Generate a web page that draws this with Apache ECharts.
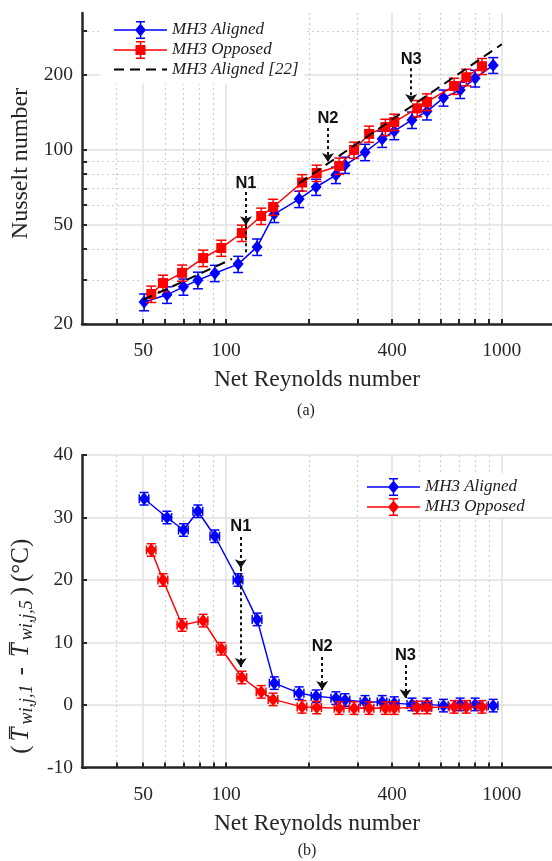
<!DOCTYPE html>
<html><head><meta charset="utf-8">
<script src="https://cdn.jsdelivr.net/npm/echarts@6/dist/echarts.min.js"></script>
<style>html,body{margin:0;padding:0;background:#fff}#c{width:552px;height:861px}</style>
</head><body><div id="c"></div>
<script>
// ---------- data ----------
const reAligned = [50.4, 61, 70, 79, 91, 110.5, 129.5, 149.5, 184, 212, 250, 270, 319, 368, 407, 472, 535, 614, 706, 800, 930];
const reOpposed = [53.5, 59, 69.2, 82.5, 96, 114, 134, 148, 188.5, 213, 257, 291, 330, 378, 407, 493, 535, 671, 743, 847];
const nuAligned = [24.5, 26.2, 28.2, 30.0, 32.0, 34.8, 40.8, 55.3, 63.5, 71, 79.3, 87, 98, 110.7, 119, 132, 143, 162, 174, 194, 219];
const nuAlignedErr = [1.9, 2.0, 2.1, 2.3, 2.4, 2.6, 3.1, 4.2, 4.8, 5.3, 6.0, 6.5, 7.4, 8.3, 9.0, 10, 11, 12, 13, 15, 16];
const nuOpposed = [26.4, 29.2, 32.1, 36.8, 40.4, 46.4, 54.3, 59, 74, 80.8, 86.3, 100, 116, 123.6, 129.5, 147, 156, 180.7, 196, 217];
const nuOpposedErr = [2.0, 2.2, 2.4, 2.8, 3.0, 3.5, 4.1, 4.4, 5.6, 6.1, 6.5, 7.5, 8.7, 9.3, 9.7, 11, 12, 13.5, 15, 16];
const refLamRe = [50, 105];
const refLamNu = [25, 36.5];
const refTurbRe = [184, 1000];
const refTurbNu = [73.5, 266];
const dtAligned = [33.0, 30.0, 28.0, 31.0, 27.0, 20.0, 13.7, 3.5, 1.9, 1.4, 1.1, 0.8, 0.5, 0.5, 0.3, 0.1, 0.1, -0.1, 0.1, 0.1, -0.1];
const dtAlignedErr = [1.0, 1.0, 1.0, 1.0, 1.0, 1.0, 1.0, 1.0, 1.0, 1.0, 1.0, 1.0, 1.0, 1.0, 1.0, 1.0, 1.0, 1.0, 1.0, 1.0, 1.0];
const dtOpposed = [24.8, 20.0, 12.8, 13.5, 9.0, 4.4, 2.1, 0.9, -0.3, -0.4, -0.5, -0.5, -0.5, -0.5, -0.5, -0.4, -0.4, -0.3, -0.3, -0.3];
const dtOpposedErr = [1.0, 1.0, 1.0, 1.0, 1.0, 1.0, 1.0, 1.0, 1.0, 1.0, 1.0, 1.0, 1.0, 1.0, 1.0, 1.0, 1.0, 1.0, 1.0, 1.0];
const reErrAligned = [2.0, 2.4, 2.8, 3.2, 3.6, 4.4, 5.2, 6.0, 7.4, 8.5, 10, 10.8, 12.8, 14.7, 16.3, 18.9, 21.4, 24.6, 28.2, 32, 37.2];
const reErrOpposed = [2.1, 2.4, 2.8, 3.3, 3.8, 4.6, 5.4, 5.9, 7.5, 8.5, 10.3, 11.6, 13.2, 15.1, 16.3, 19.7, 21.4, 26.8, 29.7, 33.9];

const xMajorTicks = [50, 100, 400, 1000];
const xMinorTicks = [40, 60, 70, 80, 90, 200, 300, 500, 600, 700, 800, 900];
const nuMajorTicks = [20, 50, 100, 200];
const nuMinorTicks = [30, 40, 60, 70, 80, 90, 300];

// annotation anchors (data space): label position, arrow start, arrow tip(s)
const annTopNames = ['N1', 'N2', 'N3'];
const annTopRe = [118, 234, 469];
const annTopLabel = [73.7, 134, 230];
const annTopFrom = [67.8, 122.5, 213];
const annTopTo = [49.9, 89.5, 154.5];
const annTopTail = [37.9, null, null];
const annBotNames = ['N1', 'N2', 'N3'];
const annBotRe = [113, 223, 447];
const annBotLabel = [28.5, 9.3, 8.0];
const annBotFrom = [26.9, 7.7, 6.4];
const annBotTo = [21.9, 2.4, 1.1];
const annBotTail = [6.1, null, null];

// ---------- styling ----------
const SERIF = 'Liberation Serif';
const AX = '#262626';
const BLUE = '#0000ff', RED = '#ff0000';
const MAJOR_GRID = {show: true, lineStyle: {color: '#e1e1e1', width: 1.5}};
const MINOR_GRID = {show: true, lineStyle: {color: '#cdcdcd', width: 1.2, type: [2, 3]}};
const TICK = (vals) => ({show: true, inside: true, length: 5, customValues: vals, lineStyle: {color: AX, width: 2}});
const LABEL = (vals, margin) => ({show: true, customValues: vals, margin: margin, fontFamily: SERIF, fontSize: 19.5, color: AX,
  formatter: (v) => String(Math.round(v))});
const AXLINE = {show: true, onZero: false, lineStyle: {color: AX, width: 2.5}};
const NAME_STYLE = {fontFamily: SERIF, fontSize: 23.5, color: AX};

function xAxesFor(grid) {
  return [
    {type: 'log', logBase: 10, gridIndex: grid, min: 30, max: 1520, position: 'bottom',
      axisLine: AXLINE, axisTick: TICK(xMajorTicks), axisLabel: LABEL(xMajorTicks, 17),
      splitLine: MAJOR_GRID, minorTick: {show: false}, minorSplitLine: {show: false},
      name: 'Net Reynolds number', nameLocation: 'middle', nameGap: 44, nameTextStyle: NAME_STYLE},
    {type: 'log', logBase: 10, gridIndex: grid, min: 30, max: 1520, position: 'bottom',
      axisLine: {show: false, onZero: false}, axisTick: TICK(xMinorTicks), axisLabel: {show: false},
      splitLine: MINOR_GRID, minorTick: {show: false}}
  ];
}

function errRender(capHalf, withX) {
  return function (params, api) {
    const x = api.value(0), y = api.value(1);
    const st = {stroke: api.visual('color'), lineWidth: 1.5, fill: null};
    const lo = api.coord([x, api.value(2)]);
    const hi = api.coord([x, api.value(3)]);
    const kids = [
      {type: 'line', shape: {x1: lo[0], y1: lo[1], x2: hi[0], y2: hi[1]}, style: st},
      {type: 'line', shape: {x1: lo[0] - capHalf, y1: lo[1], x2: lo[0] + capHalf, y2: lo[1]}, style: st},
      {type: 'line', shape: {x1: hi[0] - capHalf, y1: hi[1], x2: hi[0] + capHalf, y2: hi[1]}, style: st}
    ];
    if (withX) {
      const l = api.coord([api.value(4), y]);
      const r = api.coord([api.value(5), y]);
      kids.push({type: 'line', shape: {x1: l[0], y1: l[1], x2: r[0], y2: r[1]}, style: st});
      kids.push({type: 'line', shape: {x1: l[0], y1: l[1] - capHalf, x2: l[0], y2: l[1] + capHalf}, style: st});
      kids.push({type: 'line', shape: {x1: r[0], y1: r[1] - capHalf, x2: r[0], y2: r[1] + capHalf}, style: st});
    }
    return {type: 'group', children: kids};
  };
}

const zip = (a, b) => a.map((v, i) => [v, b[i]]);
const errData = (xs, ys, es, xe) => xs.map((x, i) => xe
  ? [x, ys[i], ys[i] - es[i], ys[i] + es[i], x - xe[i], x + xe[i]]
  : [x, ys[i], ys[i] - es[i], ys[i] + es[i]]);

function annotations(names, re, lab, from, to, tail, tailArrow) {
  const lines = [];
  names.forEach((n, i) => {
    lines.push([{coord: [re[i], from[i]], symbol: 'none'}, {coord: [re[i], to[i]], symbol: 'arrow'}]);
    if (tail[i] != null) {
      lines.push([{coord: [re[i], to[i]], symbol: 'none'}, {coord: [re[i], tail[i]], symbol: tailArrow ? 'arrow' : 'none'}]);
    }
  });
  return {
    markLine: {silent: true, animation: false, symbolSize: 9, label: {show: false},
      lineStyle: {color: '#111', width: 2, type: [3, 3]}, emphasis: {disabled: true}, data: lines},
    markPoint: {silent: true, animation: false, symbol: 'rect', symbolSize: 1,
      itemStyle: {color: 'rgba(0,0,0,0)'},
      label: {show: true, position: 'inside', formatter: '{b}', fontFamily: 'Liberation Sans', fontWeight: 'bold', fontSize: 16.5, color: '#111'},
      data: names.map((n, i) => ({name: n, coord: [re[i], lab[i]]}))}
  };
}
const topAnn = annotations(annTopNames, annTopRe, annTopLabel, annTopFrom, annTopTo, annTopTail, false);
const botAnn = annotations(annBotNames, annBotRe, annBotLabel, annBotFrom, annBotTo, annBotTail, true);

const ICON_DIAMOND = 'path://M0,9.25H53V10.75H0Z M26.5,3.5L32,10L26.5,16.5L21,10Z M25.75,1H27.25V19H25.75Z M22,1H31V2.5H22Z M22,17.5H31V19H22Z';
const ICON_SQUARE = 'path://M0,9.25H53V10.75H0Z M21.5,5H31.5V15H21.5Z M25.75,1H27.25V19H25.75Z M22,1H31V2.5H22Z M22,17.5H31V19H22Z';
const ICON_DASH = 'path://M0,9H10V11H0Z M16,9H26V11H16Z M32,9H42V11H32Z M48,9H53V11H48Z';

const legendText = {fontFamily: SERIF, fontStyle: 'italic', fontSize: 17, color: '#1a1a1a'};

const option = {
  animation: false,
  backgroundColor: '#fff',
  grid: [
    {left: 82, top: 13, width: 470, height: 311, containLabel: false, outerBoundsMode: 'none'},
    {left: 82, top: 455, width: 470, height: 312.5, containLabel: false, outerBoundsMode: 'none'}
  ],
  xAxis: [...xAxesFor(0), ...xAxesFor(1)],
  yAxis: [
    {type: 'log', logBase: 10, gridIndex: 0, min: 20, max: 355, position: 'left',
      axisLine: AXLINE, axisTick: TICK(nuMajorTicks), axisLabel: LABEL(nuMajorTicks, 9),
      splitLine: MAJOR_GRID, minorTick: {show: false}, minorSplitLine: {show: false},
      name: 'Nusselt number', nameLocation: 'middle', nameGap: 47,
      nameTextStyle: Object.assign({}, NAME_STYLE, {fontSize: 24, padding: [0, 0, 0, 10]})},
    {type: 'log', logBase: 10, gridIndex: 0, min: 20, max: 355, position: 'left',
      axisLine: {show: false, onZero: false}, axisTick: TICK(nuMinorTicks), axisLabel: {show: false},
      splitLine: MINOR_GRID, minorTick: {show: false}},
    {type: 'value', gridIndex: 1, min: -10, max: 40, interval: 10, position: 'left',
      axisLine: AXLINE, axisTick: {show: true, inside: true, length: 5, lineStyle: {color: AX, width: 2}},
      axisLabel: {show: true, margin: 9, fontFamily: SERIF, fontSize: 19.5, color: AX},
      splitLine: MAJOR_GRID,
      name: '{p|(}{t|T\u0305}{s|wi,j,1}{m|-}{t|T\u0305}{s|wi,j,5}{q|)}{p|(°C)}',
      nameLocation: 'middle', nameGap: 44,
      nameTextStyle: {fontFamily: SERIF, fontSize: 25, color: AX, padding: [0, 70, 0, 0],
        rich: {
          p: {fontFamily: SERIF, fontSize: 25, color: AX},
          q: {fontFamily: SERIF, fontSize: 25, color: AX, padding: [0, 5, 0, 0]},
          t: {fontFamily: SERIF, fontSize: 25, fontStyle: 'italic', color: AX, padding: [0, 3, 0, 4]},
          s: {fontFamily: SERIF, fontSize: 18, fontStyle: 'italic', color: AX, padding: [11, 5, 0, 0]},
          m: {fontFamily: SERIF, fontSize: 25, color: AX, padding: [0, 6, 0, 4]}
        }}}
  ],
  legend: [
    {orient: 'vertical', left: 100, top: 13, padding: [8, 6, 6, 14], itemGap: 2, itemWidth: 53, itemHeight: 20,
      backgroundColor: '#ffffff', selectedMode: false, textStyle: legendText, itemStyle: {borderWidth: 0},
      data: [{name: 'MH3 Aligned', icon: ICON_DIAMOND}, {name: 'MH3 Opposed', icon: ICON_SQUARE},
             {name: 'MH3 Aligned [22]', icon: ICON_DASH}]},
    {orient: 'vertical', left: 360, top: 473, padding: [5, 6, 1, 7], itemGap: 2, itemWidth: 53, itemHeight: 20,
      backgroundColor: '#ffffff', selectedMode: false, textStyle: legendText, itemStyle: {borderWidth: 0},
      data: [{name: 'MH3 Aligned', icon: ICON_DIAMOND}, {name: 'MH3 Opposed', icon: ICON_DIAMOND}]}
  ],
  graphic: [
    {type: 'text', x: 306, y: 411, style: {text: '(a)', fontFamily: SERIF, fontSize: 16, fill: AX, align: 'center', verticalAlign: 'middle'}},
    {type: 'text', x: 307, y: 851, style: {text: '(b)', fontFamily: SERIF, fontSize: 16, fill: AX, align: 'center', verticalAlign: 'middle'}}
  ],
  series: [
    Object.assign({type: 'line', name: 'MH3 Aligned', xAxisIndex: 0, yAxisIndex: 0, z: 2,
      data: zip(reAligned, nuAligned), symbol: 'diamond', symbolSize: [11, 13], showSymbol: true,
      itemStyle: {color: BLUE}, lineStyle: {color: BLUE, width: 1.5}, emphasis: {disabled: true}}, topAnn),
    {type: 'custom', name: 'MH3 Aligned', xAxisIndex: 0, yAxisIndex: 0, z: 2, itemStyle: {color: BLUE},
      renderItem: errRender(5, false), encode: {x: 0, y: 1}, data: errData(reAligned, nuAligned, nuAlignedErr)},
    {type: 'line', name: 'MH3 Opposed', xAxisIndex: 0, yAxisIndex: 0, z: 3,
      data: zip(reOpposed, nuOpposed), symbol: 'rect', symbolSize: 10, showSymbol: true,
      itemStyle: {color: RED}, lineStyle: {color: RED, width: 1.5}, emphasis: {disabled: true}},
    {type: 'custom', name: 'MH3 Opposed', xAxisIndex: 0, yAxisIndex: 0, z: 3, itemStyle: {color: RED},
      renderItem: errRender(5, false), encode: {x: 0, y: 1}, data: errData(reOpposed, nuOpposed, nuOpposedErr)},
    {type: 'line', name: 'MH3 Aligned [22]', xAxisIndex: 0, yAxisIndex: 0, z: 5, showSymbol: false, symbol: 'none',
      data: zip(refLamRe, refLamNu), itemStyle: {color: '#000'}, lineStyle: {color: '#000', width: 2, type: [10, 6]}, emphasis: {disabled: true}},
    {type: 'line', name: 'MH3 Aligned [22]', xAxisIndex: 0, yAxisIndex: 0, z: 5, showSymbol: false, symbol: 'none',
      data: zip(refTurbRe, refTurbNu), itemStyle: {color: '#000'}, lineStyle: {color: '#000', width: 2, type: [10, 6]}, emphasis: {disabled: true}},

    Object.assign({type: 'line', name: 'MH3 Aligned', xAxisIndex: 2, yAxisIndex: 2, z: 2,
      data: zip(reAligned, dtAligned), symbol: 'diamond', symbolSize: [11, 13], showSymbol: true,
      itemStyle: {color: BLUE}, lineStyle: {color: BLUE, width: 1.5}, emphasis: {disabled: true}}, botAnn),
    {type: 'custom', name: 'MH3 Aligned', xAxisIndex: 2, yAxisIndex: 2, z: 2, itemStyle: {color: BLUE},
      renderItem: errRender(4.5, true), encode: {x: 0, y: 1}, data: errData(reAligned, dtAligned, dtAlignedErr, reErrAligned)},
    {type: 'line', name: 'MH3 Opposed', xAxisIndex: 2, yAxisIndex: 2, z: 3,
      data: zip(reOpposed, dtOpposed), symbol: 'diamond', symbolSize: [11, 13], showSymbol: true,
      itemStyle: {color: RED}, lineStyle: {color: RED, width: 1.5}, emphasis: {disabled: true}},
    {type: 'custom', name: 'MH3 Opposed', xAxisIndex: 2, yAxisIndex: 2, z: 3, itemStyle: {color: RED},
      renderItem: errRender(4.5, true), encode: {x: 0, y: 1}, data: errData(reOpposed, dtOpposed, dtOpposedErr, reErrOpposed)}
  ]
};

const chart = echarts.init(document.getElementById('c'), null, {renderer: 'canvas'});
chart.setOption(option);
</script>
</body></html>
